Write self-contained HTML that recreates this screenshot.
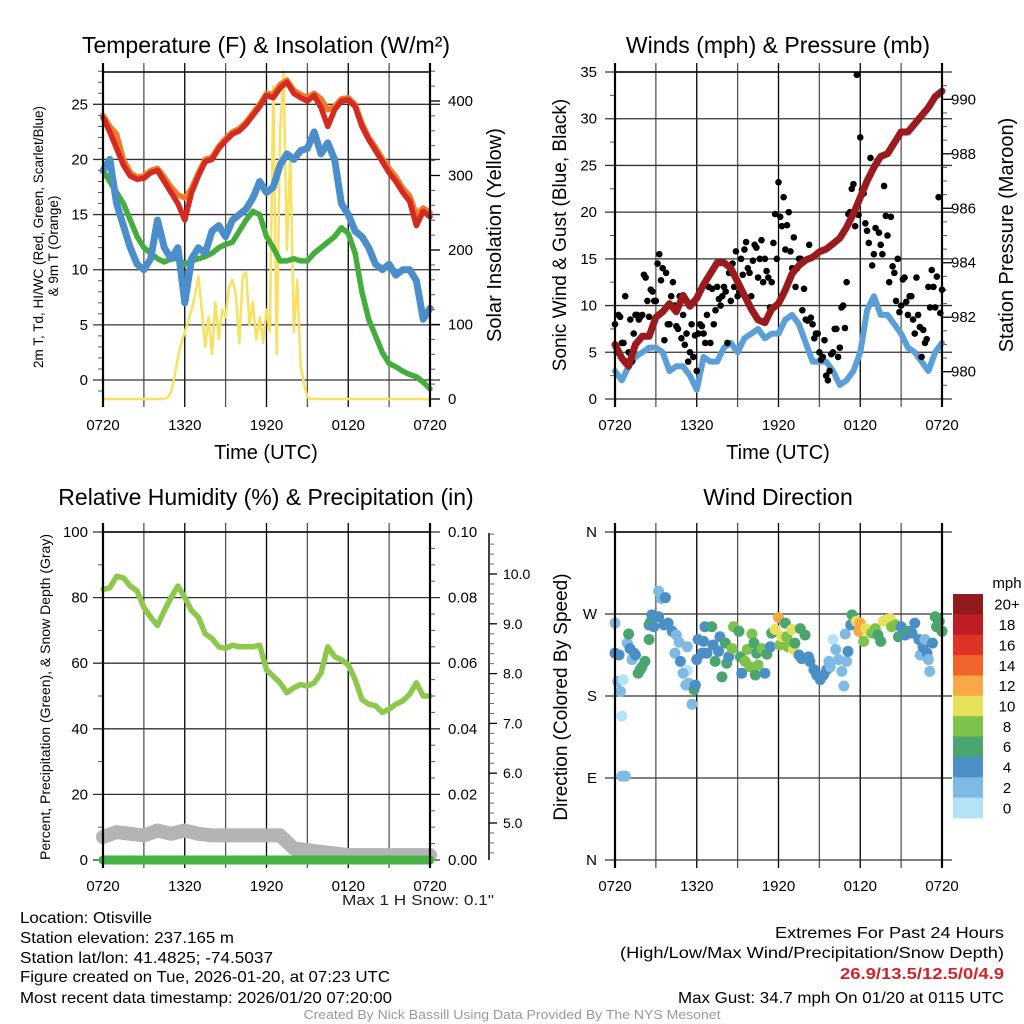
<!DOCTYPE html>
<html><head><meta charset="utf-8">
<style>
html,body{margin:0;padding:0;background:#fff;}
svg{display:block;font-family:"Liberation Sans",sans-serif;}
.nar{font-family:"Liberation Sans Narrow","Liberation Sans",sans-serif;}
</style></head>
<body>
<svg id="chart" width="1024" height="1024" viewBox="0 0 1024 1024" xmlns="http://www.w3.org/2000/svg">
<g id="p1"></g>
<g id="p2"></g>
<g id="p3"></g>
<g id="p4"></g>
<g id="txt" class="nar" font-size="16">
<text x="20" y="923" textLength="132" lengthAdjust="spacingAndGlyphs">Location: Otisville</text>
<text x="20" y="943" textLength="214" lengthAdjust="spacingAndGlyphs">Station elevation: 237.165 m</text>
<text x="20" y="963" textLength="253" lengthAdjust="spacingAndGlyphs">Station lat/lon: 41.4825; -74.5037</text>
<text x="20" y="982" textLength="370" lengthAdjust="spacingAndGlyphs">Figure created on Tue, 2026-01-20, at 07:23 UTC</text>
<text x="20" y="1003" textLength="372" lengthAdjust="spacingAndGlyphs">Most recent data timestamp: 2026/01/20 07:20:00</text>
<text x="494" y="905" text-anchor="end" font-size="15" fill="#222" textLength="152" lengthAdjust="spacingAndGlyphs">Max 1 H Snow: 0.1"</text>
<text x="1004" y="938" text-anchor="end" textLength="229" lengthAdjust="spacingAndGlyphs">Extremes For Past 24 Hours</text>
<text x="1004" y="958" text-anchor="end" textLength="384" lengthAdjust="spacingAndGlyphs">(High/Low/Max Wind/Precipitation/Snow Depth)</text>
<text x="1004" y="979" text-anchor="end" font-weight="bold" fill="#d0242a" textLength="164" lengthAdjust="spacingAndGlyphs">26.9/13.5/12.5/0/4.9</text>
<text x="1004" y="1003" text-anchor="end" textLength="326" lengthAdjust="spacingAndGlyphs">Max Gust: 34.7 mph On 01/20 at 0115 UTC</text>
<text x="512" y="1019" text-anchor="middle" font-size="12.5" fill="#999" textLength="417" lengthAdjust="spacingAndGlyphs">Created By Nick Bassill Using Data Provided By The NYS Mesonet</text>
</g>
</svg>
<script>
// ---- data (t in hours after 0720, 30-min steps unless noted) ----
const xTickLabels = ["0720","1320","1920","0120","0720"];
const tempT = [23.8,22.5,21,19.5,18.5,18.2,18.3,18.8,19,18,17,16,14.5,17,18.5,19.8,20,21,21.7,22.3,22.6,23.2,24,24.8,25.8,25.6,26.5,27,26,25.6,25.3,25.8,24.7,23,24.5,25.3,25.4,24.8,23,21.8,20.8,19.8,18.8,18,17,16.2,14,15.3,14.8];
const temp9m = [24,23,22.3,20,18.8,18.4,18.5,19,19.2,18.4,17.5,16.8,16.5,17.4,18.8,20,20.2,21.2,21.9,22.5,22.8,23.4,24.2,25,26,25.9,26.8,27.2,26.3,25.9,25.6,26,25.5,24.5,24.8,25.5,25.6,25,23.3,22,21.1,20.1,19.2,18.4,17.4,16.7,15,15.6,15.2];
const windChill = [19,20,16,14,12,10.5,10,11,14.5,12,11,12,7,11,12,11.5,13.5,14,13,14.5,15,15.5,16.5,18,17,17.5,19.5,20.5,20,20.8,21,22.5,20.5,21.5,20,16,15,13.5,13,12,10.5,10,10.5,9.5,10,10,9,5.5,6.5];
const dewPt = [19,18,17,16,14.5,13,12,11.5,11,10.7,11,11,10.5,10.8,11,11.2,11.5,12,12.3,12.5,13.5,14.5,15.3,15,13,12,10.8,10.8,11,10.8,10.8,11.5,12,12.5,13,13.8,13.3,11.5,8,5.5,4,2.5,1.5,1.2,0.8,0.5,0.3,-0.2,-0.8];
// solar, 15-min steps
const solar = [0,0,0,0,0,0,0,0,0,0,0,0,0,0,0,0,0,0,0,2,10,30,55,75,90,105,120,140,165,120,70,110,60,130,80,120,110,150,160,140,75,165,170,100,130,80,110,75,120,90,420,60,360,440,200,330,90,160,45,20,3,0,0,0,0,0,0,0,0,0,0,0,0,0,0,0,0,0,0,0,0,0,0,0,0,0,0,0,0,0,0,0,0,0,0,0,0];
const sonic = [3,2,3.5,4.5,5,5.5,5.5,5,3,3.5,3.5,2.5,1,4.5,4,4,5.5,6,5,6.5,7,7.5,6.5,7,7,8.5,9,8,6,4,4,4,3,1.5,2,3,5,9.5,11,9,9,8,7,5.5,5,4,3,5,6];
const pressure = [981,980.5,980.2,981,981.3,981.3,982,982.2,982.5,982.2,982.8,982.4,982.7,983.2,983.6,984,984,983.8,983.3,982.8,982.3,981.9,981.8,982.3,982.5,983,983.6,983.9,984.1,984.2,984.4,984.5,984.7,984.9,985.3,985.8,986.4,987,987.5,987.9,988,988.4,988.8,988.8,989.1,989.4,989.7,990.1,990.3];
// gusts, 15-min steps
const gustA = [8,9,6,11, 5,4,9,8.5, 9,13,8.8,11.5, 10.5,15.5,14,13.5, 8,12.5,7.8,11, 9,7,5,4.5, 3,8,7,9, 6,8,12,10, 12,6,10.5,12, 11,15,16,14, 11,16.5,13,17, 15,13,12.5,19.8, 23.2,18.5,16,20, 14,12,15,9.5, 8.5,16.5,8,7, 5,4.5,2.5,3, 5,7.5,5.5,10, 12.5,20,23,34.7, 28,22,18,25.8, 15.5,25.5,16.5,22.8, 17.5,19.5,13.5,15, 10,13,9,11, 7,9,4.5,6, 12,13.8,9.8,21.6, 11.7];
const gustB = [5,8.8,6,4, 8.5,7,9,8.8, 13.3,10.5,11.7,10.5, 14.5,12.7,6.3,8, 11,10,7.5,6.5, 5.8,4,8,6.8, 7,7.8,6,12, 11.8,9.5,10.7,11, 11.5,13.5,14.5,15.8, 11.5,13.3,16.8,13.5, 14.8,16.2,15,12.5, 13.7,9.8,16.7,15, 19.5,21.6,18.6,15.8, 17.3,14,15,11.8, 8.4,8.7,6.5,7, 4.2,6.3,2,4.8, 7.5,4.5,9.8,7.6, 19.8,22.5,18.5,19.7, 22.4,18.8,16.7,14.3, 18.3,17.8,15.5,19.6, 12.5,14.2,10.5,9.3, 12.8,10.4,11,8.5, 13,7.7,7.4,6.4, 9.8,12,13.1,9.2];
const rh = [82.5,83,86.5,86,83.5,82,77,74,71.5,76,80,83.5,80,76,74,69,67.5,65,64.5,65.5,65,65,65,65.5,58,56,54,51,52.5,53.5,53,54,57,65,62,61,59.5,55,49,47.5,47,45,46,47.5,48.5,50.5,54,50,50];
// snow depth (plotted on percent scale), hourly
const snow = [7,8.5,8,7.5,9,8,9,8,7.5,7.5,7.5,7.5,7.5,7.5,3.5,3,2.5,2,1.5,1.5,1.5,1.5,1.5,1.5,1.5];
const precip = [0,0,0,0,0,0,0,0,0,0,0,0,0,0,0,0,0,0,0,0,0,0,0,0,0];
// wind direction scatter
const wdTime = [0,0,0.3,0.2,0.6,0.4,0.5,0.5,0.76,0.9,1,1.1,1.4,1.25,1.5,1.7,1.98,2.2,1.85,2.5,2.6,2.5,2.7,2.85,3.2,3.4,3.7,3.2,3.6,3.9,4.2,4.5,4.7,4.4,4.8,5.3,5.3,5.0,5.2,5.4,5.8,5.9,5.65,6.0,6.1,6.5,6.6,6.4,6.75,7.1,7.2,7.35,7.7,7.6,8.1,7.85,8.2,8.35,8.6,8.7,9.1,9.2,9.3,9.55,9.7,9.9,10.05,10.2,10.3,10.4,10.5,10.8,11,11.15,11.4,11.5,11.75,12.0,12.1,12.25,12.5,12.6,12.7,12.98,13.1,13.2,13.5,13.6,13.95,13.7,14.2,14.3,14.6,14.8,15.06,15.3,15.55,15.7,15.8,16,16.2,16.4,16.65,16.8,16.9,17,17.1,17.3,17.4,17.7,18,17.9,18.25,18.4,18.6,18.85,19.1,19.3,19.5,19.7,19.95,20.2,20.3,20.6,20.8,21,21.3,21.5,21.8,22,22.3,22.4,22.6,22.75,22.9,23,23.1,23.3,23.5,23.6,23.8,24,23.7];
const wdDir = [260,227,225,196,198,185,158,92,92,238,248,232,227,220,225,205,212,218,209,258,261,242,269,256,295,287,288,267,258,260,251,247,239,227,218,234,208,205,192,194,187,192,171,220,242,240,256,227,227,256,236,218,245,229,238,201,216,223,232,256,251,223,205,218,231,212,248,238,203,227,214,232,205,226,234,249,253,266,236,245,260,245,234,253,231,238,225,254,247,221,223,218,209,203,198,203,209,218,212,242,231,220,207,191,248,218,229,258,269,262,260,251,240,254,251,249,254,247,240,262,264,265,256,258,245,256,247,251,249,260,242,225,234,242,227,220,207,238,267,256,262,251,264];
const wdSpd = [2,4,4,2,1,2,1,2,2,2,6,4,4,2,4,6,6,6,7,4,6,6,4,4,2,2,4,4,4,4,4,2,2,2,4,2,1,2,2,2,6,4,2,4,4,4,4,4,4,6,4,6,4,4,6,6,6,4,8,8,6,6,4,8,8,8,8,6,6,6,8,8,4,6,4,6,10,12,8,10,6,8,8,10,10,6,4,6,6,4,4,4,4,4,4,4,4,2,2,1,2,2,2,2,2,2,4,4,6,10,12,12,8,10,10,8,8,6,6,10,10,10,8,8,6,4,4,6,4,4,4,2,4,2,4,2,2,4,6,6,6,6,6];
const cbLabels = ["20+","18","16","14","12","10","8","6","4","2","0"];
const cbColors = ["#921a1d","#bd1e24","#dd3427","#f0632b","#f8a845","#e6e05a","#7dc24b","#4aa56e","#4a8fc6","#7fbae5","#b4e3f7"];

const NS="http://www.w3.org/2000/svg";
function mk(parent,tag,attrs){const e=document.createElementNS(NS,tag);for(const k in attrs)e.setAttribute(k,attrs[k]);parent.appendChild(e);return e;}
function txt(parent,x,y,s,attrs){const e=mk(parent,'text',Object.assign({x:x,y:y},attrs||{}));e.textContent=s;return e;}
function lin(d0,d1,r0,r1){return v=>r0+(v-d0)/(d1-d0)*(r1-r0);}
function pathFrom(xs,ys){let d='';for(let i=0;i<xs.length;i++)d+=(i?'L':'M')+xs[i].toFixed(1)+' '+ys[i].toFixed(1);return d;}

function frame(g,P,xs){
  for(let h=0;h<=24;h+=3){const x=xs(h);
    const l=mk(g,'line',{x1:x,x2:x,y1:P.y0-9,y2:P.y1+8,stroke:(h%6==0)?'#000':'#555','stroke-width':1.3});
    
    }
  for(let i=0;i<5;i++){const t=txt(g,xs(i*6),P.y1+31,xTickLabels[i],{'text-anchor':'middle','font-size':15});
    
    }
}
function hgrid(g,P,y){const l=mk(g,'line',{x1:P.x0-10,x2:P.x1+10,y1:y,y2:y,stroke:'#333','stroke-width':1.3});
  
  }
function minor(g,x,y,dir){mk(g,'line',{x1:x,x2:x+dir*5,y1:y,y2:y,stroke:'#555','stroke-width':1});}
function borders(g,P){
  mk(g,'line',{x1:P.x0,x2:P.x0,y1:P.y0-9,y2:P.y1+8,stroke:'#000','stroke-width':2.2});
  mk(g,'line',{x1:P.x1,x2:P.x1,y1:P.y0-9,y2:P.y1+8,stroke:'#000','stroke-width':2.2});
  mk(g,'line',{x1:P.x0,x2:P.x1,y1:P.y0,y2:P.y0,stroke:'#000','stroke-width':1.5});
}
function series(g,name,xsv,ysv,color,w){const p=mk(g,'path',{d:pathFrom(xsv,ysv),fill:'none',stroke:color,'stroke-width':w,'stroke-linejoin':'round','stroke-linecap':'round'});
  
  return p;}
function vtitle(g,x,y,s,size,name){const t=txt(g,x,y,s,{'text-anchor':'middle','font-size':size,transform:`rotate(-90 ${x} ${y})`});
  
  return t;}
function title(g,x,y,s,name){const t=txt(g,x,y,s,{'text-anchor':'middle','font-size':23});
  
  return t;}

// ---------- Panel 1 ----------
(function(){
  const g=document.getElementById('p1');const P={x0:103,x1:430,y0:72,y1:399};
  const xs=lin(0,24,P.x0,P.x1), yl=lin(0,25,380,104.3), yr=lin(0,400,399,101);
  frame(g,P,xs);
  for(let v=0;v<=25;v+=5){hgrid(g,P,yl(v));const t=txt(g,88,yl(v)+5,String(v),{'text-anchor':'end','font-size':15});}
  for(let v=-1;v<=28;v++) if(v%5) minor(g,P.x0,yl(v),-1);
  for(let v=0;v<=400;v+=100){mk(g,'line',{x1:P.x1,x2:P.x1+10,y1:yr(v),y2:yr(v),stroke:'#000','stroke-width':1.3});const t=txt(g,448,yr(v)+5,String(v),{'font-size':15});}
  for(let v=20;v<=440;v+=20) if(v%100) minor(g,P.x1,yr(v),1);
  const t30=tempT.map((_,i)=>xs(i*0.5));
  series(g,'solar-insolation-line',solar.map((_,i)=>xs(i*0.25)),solar.map(v=>yr(v)),'#f8e060',2.5);
  series(g,'dewpoint-line',t30,dewPt.map(v=>yl(v)),'#44ad3c',5.5);
  series(g,'wind-chill-line',t30,windChill.map(v=>yl(v)),'#4a8ecb',7);
  series(g,'temp-9m-line',t30,temp9m.map(v=>yl(v)),'#f07a28',5.5);
  series(g,'temp-2m-line',t30,tempT.map(v=>yl(v)),'#d42a22',5.5);
  borders(g,P);
  title(g,266,53,'Temperature (F) & Insolation (W/m²)','temperature-title');
  const tt=txt(g,266,459,'Time (UTC)',{'text-anchor':'middle','font-size':20});
  vtitle(g,43,237,'2m T, Td, HI/WC (Red, Green, Scarlet/Blue)',13.5,'left-axis-title');
  vtitle(g,58,246,'& 9m T (Orange)',13.5,'left-axis-title-2');
  vtitle(g,501,235,'Solar Insolation (Yellow)',20,'right-axis-title');
})();

// ---------- Panel 2 ----------
(function(){
  const g=document.getElementById('p2');const P={x0:615,x1:942,y0:72,y1:399};
  const xs=lin(0,24,P.x0,P.x1), yl=lin(0,35,399,72), yr=lin(980,990,371.7,99.3);
  frame(g,P,xs);
  for(let v=0;v<=35;v+=5){hgrid(g,P,yl(v));const t=txt(g,597,yl(v)+5,String(v),{'text-anchor':'end','font-size':15});}
  for(let v=2.5;v<35;v+=5) minor(g,P.x0,yl(v),-1);
  for(let v=980;v<=990;v+=2){mk(g,'line',{x1:P.x1,x2:P.x1+10,y1:yr(v),y2:yr(v),stroke:'#000','stroke-width':1.3});const t=txt(g,951,yr(v)+5,String(v),{'font-size':15});}
  for(let v=979.5;v<=991;v+=0.5) if(Math.abs(v%2)>0.01) minor(g,P.x1,yr(v),1);
  series(g,'sonic-wind-line',sonic.map((_,i)=>xs(i*0.5)),sonic.map(v=>yl(v)),'#5a9fd8',6);
  const gg=mk(g,'g',{});
  gustA.forEach((v,i)=>{const c=mk(gg,'circle',{cx:xs(i*0.25),cy:yl(v),r:3.3,fill:'#000'});});
  gustB.forEach((v,i)=>{const c=mk(gg,'circle',{cx:xs((i+0.5)*0.25),cy:yl(v),r:3.3,fill:'#000'});});
  series(g,'pressure-line',pressure.map((_,i)=>xs(i*0.5)),pressure.map(v=>yr(v)),'#9a1a1e',7);
  borders(g,P);
  title(g,778,53,'Winds (mph) & Pressure (mb)','winds-title');
  const tt=txt(g,778,459,'Time (UTC)',{'text-anchor':'middle','font-size':20});
  vtitle(g,566,235,'Sonic Wind & Gust (Blue, Black)',19,'left-axis-title');
  vtitle(g,1013,235,'Station Pressure (Maroon)',20,'right-axis-title');
})();

// ---------- Panel 3 ----------
(function(){
  const g=document.getElementById('p3');const P={x0:103,x1:430,y0:532,y1:860};
  const xs=lin(0,24,P.x0,P.x1), yl=lin(0,100,860,532), ys=lin(5,10,823,574);
  frame(g,P,xs);
  for(let v=0;v<=100;v+=20){hgrid(g,P,yl(v));
    const t=txt(g,88,yl(v)+5,String(v),{'text-anchor':'end','font-size':15});
    const r=txt(g,448,yl(v)+5,(v/1000).toFixed(2),{'font-size':15});}
  for(let v=10;v<100;v+=20){minor(g,P.x0,yl(v),-1);}
  for(let v=5;v<100;v+=5) if(v%20) minor(g,P.x1,yl(v),1);
  mk(g,'line',{x1:489,x2:489,y1:533,y2:860,stroke:'#000','stroke-width':1.5});
  for(let v=5;v<=10;v++){mk(g,'line',{x1:489,x2:497,y1:ys(v),y2:ys(v),stroke:'#000','stroke-width':1.3});
    const t=txt(g,503,ys(v)+5,v.toFixed(1),{'font-size':14});}
  for(let v=4.4;v<=10.8;v+=0.2) if(Math.abs(v-Math.round(v))>0.05) mk(g,'line',{x1:489,x2:494,y1:ys(v),y2:ys(v),stroke:'#666','stroke-width':1});
  series(g,'rh-line',rh.map((_,i)=>xs(i*0.5)),rh.map(v=>yl(v)),'#8cc84a',5.5);
  series(g,'snow-depth-line',snow.map((_,i)=>xs(i)),snow.map(v=>yl(v)),'#b4b4b4',14);
  series(g,'precip-line',precip.map((_,i)=>xs(i)),precip.map(v=>yl(v*1000)),'#44b244',9);
  borders(g,P);
  title(g,266,505,'Relative Humidity (%) & Precipitation (in)','humidity-title');
  vtitle(g,50,697,'Percent, Precipitation (Green), & Snow Depth (Gray)',14,'left-axis-title');
})();

// ---------- Panel 4 ----------
(function(){
  const g=document.getElementById('p4');const P={x0:615,x1:942,y0:532,y1:860};
  const xs=lin(0,24,P.x0,P.x1), yd=lin(0,360,860,532);
  frame(g,P,xs);
  const dl=["N","E","S","W","N"];
  for(let i=0;i<5;i++){const y=yd(i*90);hgrid(g,P,y);const t=txt(g,597,y+5,dl[i],{'text-anchor':'end','font-size':15});}
  const gg=mk(g,'g',{});
  wdTime.forEach((t,i)=>{const idx=Math.min(10,Math.floor(wdSpd[i]/2));
    const c=mk(gg,'circle',{cx:xs(t),cy:yd(wdDir[i]),r:5.5,fill:cbColors[10-idx]});
    
    });
  borders(g,P);
  title(g,778,505,'Wind Direction','wind-direction-title');
  vtitle(g,567,697,'Direction (Colored By Speed)',19,'left-axis-title');
  const cb=mk(g,'g',{});
  const h=(818-594)/11;
  cbColors.forEach((c,i)=>{const r=mk(cb,'rect',{x:953,y:594+i*h,width:30,height:h+0.5,fill:c});
    const t=txt(cb,1007,594+i*h+h/2+5.5,cbLabels[i],{'text-anchor':'middle','font-size':15});});
  const m=txt(cb,1007,588,'mph',{'text-anchor':'middle','font-size':15});
})();
</script>
</body></html>
